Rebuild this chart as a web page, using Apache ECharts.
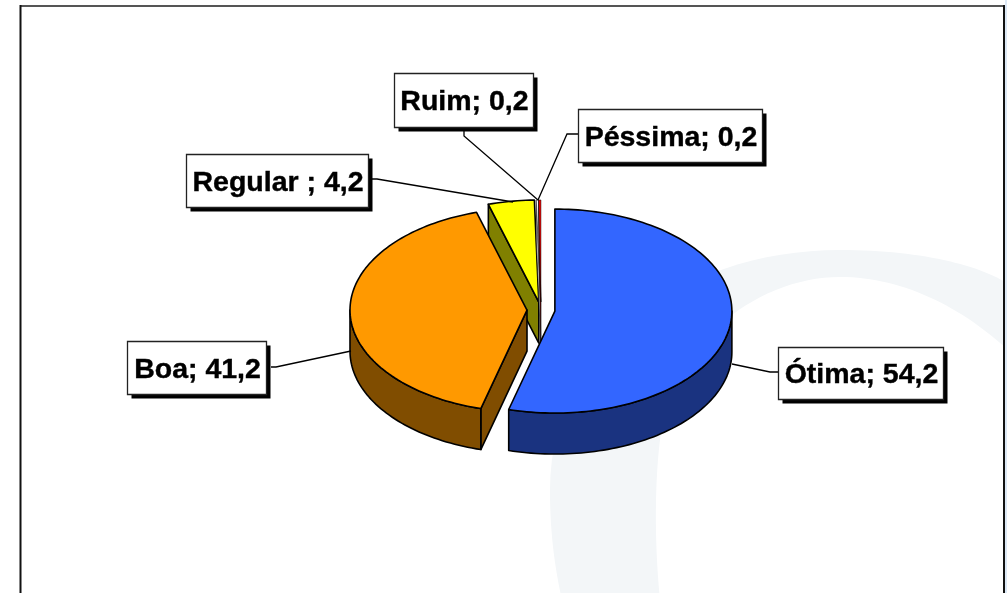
<!DOCTYPE html>
<html><head><meta charset="utf-8">
<style>html,body{margin:0;padding:0;background:#fff}#c{width:1007px;height:593px}</style>
<script src="https://cdn.jsdelivr.net/npm/echarts@6/dist/echarts.min.js"></script>
</head><body><div id="c"></div>
<script>
const categories = ['Ótima', 'Boa', 'Regular ', 'Ruim', 'Péssima'];
const values = [54.2, 41.2, 4.2, 0.2, 0.2];
const topColors = ['#3366FF', '#FF9900', '#FFFF00', '#FFFFFF', '#FF0000'];
const sideColors = ['#1A3380', '#804D00', '#808000', '#C8C8C8', '#800000'];

const pie = {cx: 541, cy: 310, rx: 177, ry: 102, depth: 41, explode: 14};
const labelBoxes = {
  'Ótima':    {x: 778, y: 347, w: 165, h: 52, leader: [[778,372],[770,372],[732,364]]},
  'Boa':      {x: 127, y: 341, w: 139, h: 53, leader: [[271,367],[276,367],[351,351]]},
  'Regular ': {x: 186, y: 154, w: 182, h: 53, leader: [[372,179],[377,179],[513,202]]},
  'Ruim':     {x: 394, y: 73,  w: 139, h: 54, leader: [[464,131],[464,136],[538,200]]},
  'Péssima':  {x: 578, y: 109, w: 184, h: 53, leader: [[578,134],[567,134],[538,200]]}
};
const total = values.reduce((a, b) => a + b, 0);
const rad = d => d * Math.PI / 180;
const starts = [];
values.reduce((acc, v, i) => { starts[i] = acc; return acc + v / total * 360; }, 0);

function sliceGeom(i) {
  const a0 = starts[i], a1 = a0 + values[i] / total * 360, mid = rad((a0 + a1) / 2);
  const cx = pie.cx + pie.explode * Math.sin(mid);
  const cy = pie.cy - pie.explode * (pie.ry / pie.rx) * Math.cos(mid);
  const pt = (a, dz) => [cx + pie.rx * Math.sin(rad(a)), cy - pie.ry * Math.cos(rad(a)) + (dz || 0)];
  return {a0, a1, cx, cy, pt};
}
function arcPts(g, from, to, dz) {
  const n = Math.max(2, Math.ceil(Math.abs(to - from) / 1.5)), out = [];
  for (let k = 0; k <= n; k++) out.push(g.pt(from + (to - from) * k / n, dz));
  return out;
}
function renderSlice(params, api) {
  const i = api.value(0), g = sliceGeom(i), ch = [], d = pie.depth;
  const thin = values[i] / total < 0.01;
  const outline = {stroke: '#000', lineWidth: thin ? 0.5 : 1.6, lineJoin: 'round'};
  const side = {fill: sideColors[i], ...outline};
  const face = a => {
    ch.push({type: 'polygon', shape: {points: [[g.cx, g.cy], g.pt(a), g.pt(a, d), [g.cx, g.cy + d]]}, style: side});
  };
  if (-Math.cos(rad(g.a0 - 90)) > 0) face(g.a0);
  if (-Math.cos(rad(g.a1 + 90)) > 0) face(g.a1);
  const w0 = Math.max(g.a0, 90), w1 = Math.min(g.a1, 270);
  if (w1 > w0) {
    const top = arcPts(g, w0, w1, 0), bot = arcPts(g, w1, w0, d);
    ch.push({type: 'polygon', shape: {points: top.concat(bot)}, style: side});
  }
  ch.push({type: 'polygon', shape: {points: [[g.cx, g.cy]].concat(arcPts(g, g.a0, g.a1, 0))},
    style: {fill: topColors[i], ...outline}});
  return {type: 'group', children: ch};
}
function renderLabel(params, api) {
  const i = api.value(0), b = labelBoxes[categories[i]];
  const txt = categories[i] + '; ' + String(values[i]).replace('.', ',');
  return {type: 'group', children: [
    {type: 'polyline', shape: {points: b.leader}, style: {stroke: '#000', lineWidth: 1.3, fill: null}},
    {type: 'rect', shape: {x: b.x + 4.5, y: b.y + 4.5, width: b.w, height: b.h}, style: {fill: '#000'}},
    {type: 'rect', shape: {x: b.x + .5, y: b.y + .5, width: b.w, height: b.h}, style: {fill: '#fff', stroke: '#222', lineWidth: 1.3}},
    {type: 'text', x: b.x + b.w / 2 + 1, y: b.y + b.h / 2 + 2.5, style: {text: txt, fill: '#000', stroke: '#000', lineWidth: 0.4,
      font: 'bold 28.5px "Liberation Sans", Arial, sans-serif', align: 'center', verticalAlign: 'middle'}}
  ]};
}
// decorative watermark outline, sampled from cubic curves
function curve(p0, p1, p2, p3) {
  const out = [];
  for (let k = 0; k <= 30; k++) {
    const t = k / 30, u = 1 - t;
    out.push([0, 1].map(j => u*u*u*p0[j] + 3*u*u*t*p1[j] + 3*u*t*t*p2[j] + t*t*t*p3[j]));
  }
  return out;
}
const markOuter = [].concat(
  curve([550,490],[550,340],[690,250],[840,250]),
  curve([840,250],[920,250],[980,265],[1010,285]),
  [[1010,600],[562,600]],
  curve([562,600],[553,560],[550,525],[550,490]));
const markInner = [].concat(
  curve([660,600],[654,540],[655,480],[660,440]),
  curve([660,440],[672,340],[760,277],[840,277]),
  curve([840,277],[900,277],[960,305],[1010,352]),
  [[1010,600]]);

const order = [2, 3, 4, 1, 0];
const chart = echarts.init(document.getElementById('c'), null, {renderer: 'canvas'});
chart.setOption({
  animation: false,
  backgroundColor: '#fff',
  graphic: {elements: [
    {type: 'polygon', z: -10, shape: {points: markOuter}, style: {fill: '#F3F6F8'}},
    {type: 'polygon', z: -9, shape: {points: markInner}, style: {fill: '#FFFFFF'}},
    {type: 'rect', z: -8, shape: {x: 1005, y: 0, width: 2, height: 593}, style: {fill: '#DCE8F5'}},
    {type: 'rect', z: -7, shape: {x: 20, y: 5, width: 985, height: 2}, style: {fill: '#555'}},
    {type: 'rect', z: -7, shape: {x: 19.5, y: 5, width: 2, height: 588}, style: {fill: '#111'}},
    {type: 'rect', z: -7, shape: {x: 1003, y: 5, width: 2, height: 588}, style: {fill: '#111'}}
  ]},
  series: [
    {type: 'custom', coordinateSystem: 'none', renderItem: renderSlice, z: 2, silent: true,
      data: order.map(i => [i, values[i], categories[i]])},
    {type: 'custom', coordinateSystem: 'none', renderItem: renderLabel, z: 3, silent: true,
      data: categories.map((c, i) => [i, values[i], c])}
  ]
});
</script></body></html>
